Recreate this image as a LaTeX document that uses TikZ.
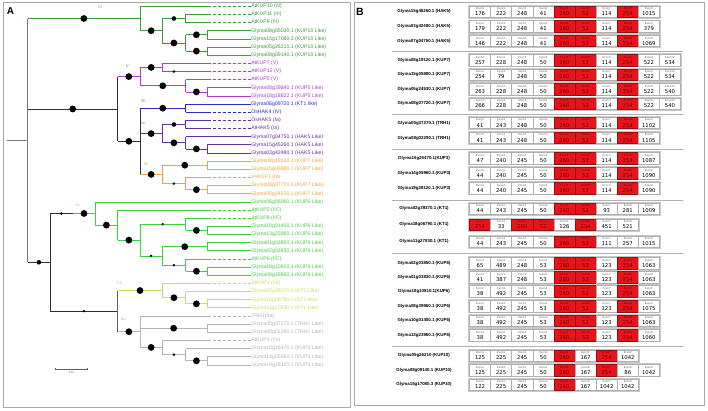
\documentclass[tikz,border=0pt]{standalone}
\usepackage{fontspec}
\setmainfont{Liberation Sans}
\newfontfamily\dvs{DejaVu Sans}
\newfontfamily\lser{Liberation Serif}
\definecolor{cIII}{HTML}{3C9C3C}
\definecolor{cV}{HTML}{B03CD0}
\definecolor{cIV}{HTML}{2A2AC8}
\definecolor{cIa}{HTML}{6B2FA0}
\definecolor{cIb}{HTML}{F2A33A}
\definecolor{cIIc}{HTML}{3CD23C}
\definecolor{cIIb}{HTML}{C4E060}
\definecolor{cIIa}{HTML}{B4B4B4}
\definecolor{cbk}{HTML}{303030}
\definecolor{cdg}{HTML}{606060}
\definecolor{croot}{HTML}{7A7A7A}
\definecolor{frame}{HTML}{A8A8A8}
\definecolor{cellgray}{HTML}{B0B0B0}
\definecolor{cellred}{HTML}{E8141C}
\definecolor{redborder}{HTML}{901010}
\definecolor{redtext}{HTML}{780000}
\definecolor{exgray}{HTML}{606060}
\def\Bd{3.4pt}\def\Md{2.3pt}\def\Sd{1.4pt}
\newcommand\gleaf[4]{%
  \pgfmathsetmacro\yy{6.3+8.15*#2}%
  \node[lab,text=#3] (L#2) at (250.5,\yy) {#4};
  \draw[br,#3] (#1,\yy) -- (L#2.west);}
\newcommand\rleaf[4]{%
  \pgfmathsetmacro\yy{6.3+8.15*#2}%
  \node[lab,text=#3] (L#2) at (250.5,\yy) {#4};
  \coordinate (D#2) at (207.5,\yy);
  \draw[br,#3] (#1,\yy) -- (D#2);
  \draw[br,#3,dash pattern=on 3pt off 2pt] (D#2) -- (L#2.west);}
\newcommand\hbr[5]{%
  \draw[br,#4] (#1,#3) -- (#2,#3);
  \fill ({(#1+#2)/2},#3) circle[radius=#5];}
\newcommand\vbr[4]{\draw[br,#4] (#1,#2) -- (#1,#3);}
\newcommand\erow[4]{%
  \node[gname] (g#1) at (424,#1+5.65) {#2};
  \draw[cellgray!70,line width=0.6pt] (468.7,#1-0.8) rectangle ({469.5+21.1*#3+0.8},#1+12.1);
  \foreach \v/\r [count=\i from 0] in {#4} {
    \ifnum\r=1 \def\fc{cellred}\def\tc{redtext}\def\bc{redborder}\def\lc{redtext}%
    \else \def\fc{white}\def\tc{black}\def\bc{cellgray}\def\lc{exgray}\fi
    \pgfmathsetmacro\cx{469.5+21.1*\i+10.55}
    \node[cellbox,fill=\fc,draw=\bc] at (\cx,#1+5.65) {};
    \node[exl,text=\lc] at (\cx,#1+2.7) {Exon\the\numexpr\i+1\relax};
    \node[exn,text=\tc] at (\cx,#1+7.8) {\v};
  }}
\begin{document}
\begin{tikzpicture}[x=1pt,y=-1pt,
  br/.style={line width=0.75pt},
  lab/.style={anchor=west,inner sep=0.6pt,font=\fontsize{5.2}{6}\selectfont},
  cl/.style={inner sep=0pt,font=\lser\fontsize{4.2}{5}\selectfont},
  gname/.style={inner sep=0pt,font=\bfseries\fontsize{4.4}{5}\selectfont},
  cellbox/.style={minimum width=21.1pt,minimum height=11.3pt,inner sep=0pt,line width=0.5pt},
  exl/.style={inner sep=0pt,font=\dvs\fontsize{2.6}{3}\selectfont},
  exn/.style={inner sep=0pt,font=\dvs\fontsize{5.3}{6}\selectfont},
  sep/.style={draw=cellgray,line width=0.8pt}]
\useasboundingbox (0,0) rectangle (708,410);
\fill[white] (0,0) rectangle (708,410);
% panel frames
\draw[frame,line width=0.8pt] (3.3,2.3) rectangle (350.5,407);
\draw[frame,line width=0.8pt] (354,2.5) rectangle (704.5,405);
\node[inner sep=0pt,font=\bfseries\fontsize{10}{12}\selectfont] (pA) at (10.5,11) {A};
\node[inner sep=0pt,font=\bfseries\fontsize{10.5}{12}\selectfont] (pB) at (360,12.2) {B};
% ---------- tree ----------
\draw[croot,line width=1.2pt] (6.7,140.4) -- (27.7,140.4);
\draw[croot,line width=1.2pt] (27.7,18.5) -- (27.7,262.3);
% III
\hbr{27.7}{140}{18.5}{cIII}{\Bd}
\vbr{140}{6.3}{30.75}{cIII}
\rleaf{140}{0}{cIII}{AtKUP10 (III)}
\hbr{140}{162.3}{30.75}{cIII}{\Bd}
\vbr{162.3}{18.5}{43}{cIII}
\hbr{162.3}{185.5}{18.5}{cIII}{\Md}
\vbr{185.5}{14.45}{22.6}{cIII}
\rleaf{185.5}{1}{cIII}{AtKUP11 (III)}
\rleaf{185.5}{2}{cIII}{AtKUP9 (III)}
\hbr{162.3}{185.5}{43}{cIII}{\Bd}
\vbr{185.5}{34.8}{51.1}{cIII}
\hbr{185.5}{207.3}{34.8}{cIII}{\Bd}
\vbr{207.3}{30.75}{38.9}{cIII}
\gleaf{207.3}{3}{cIII}{Glyma08g05030.1 (KUP10 Like)}
\gleaf{207.3}{4}{cIII}{Glyma15g17080.3 (KUP10 Like)}
\hbr{185.5}{207.3}{51.1}{cIII}{\Bd}
\vbr{207.3}{47.05}{55.2}{cIII}
\gleaf{207.3}{5}{cIII}{Glyma05g26210.1 (KUP10 Like)}
\gleaf{207.3}{6}{cIII}{Glyma08g09140.1 (KUP10 Like)}
% middle
\hbr{27.7}{117.7}{109}{cbk}{\Bd}
\vbr{117.7}{76.6}{141.3}{cbk}
% V
\hbr{117.7}{140}{76.6}{cV}{\Bd}
\vbr{140}{67.4}{85.8}{cV}
\hbr{140}{162.3}{67.4}{cV}{\Bd}
\vbr{162.3}{63.35}{71.5}{cV}
\rleaf{162.3}{7}{cV}{AtKUP7 (V)}
\rleaf{162.3}{8}{cV}{AtKUP12 (V)}
\fill (173.9,71.5) circle[radius=\Sd];
\hbr{140}{185.5}{85.8}{cV}{\Bd}
\vbr{185.5}{79.65}{91.9}{cV}
\rleaf{185.5}{9}{cV}{AtKUP5 (V)}
\hbr{185.5}{207.3}{91.9}{cV}{\Bd}
\vbr{207.3}{87.8}{95.95}{cV}
\gleaf{207.3}{10}{cV}{Glyma08g39840.1 (KUP5 Like)}
\gleaf{207.3}{11}{cV}{Glyma18g18822.1 (KUP5 Like)}
% Q
\hbr{117.7}{140}{141.3}{cbk}{\Bd}
\vbr{140}{108.2}{174.4}{cbk}
% IV
\hbr{140}{185.5}{108.2}{cIV}{\Bd}
\vbr{185.5}{104.1}{112.25}{cIV}
\gleaf{185.5}{12}{cIV}{Glyma06g09720.1 (KT1 like)}
\rleaf{185.5}{13}{cIV}{OsHAK4 (IV)}
% Ia
\hbr{140}{162.3}{133.6}{cIa}{\Bd}
\vbr{162.3}{124.5}{142.8}{cIa}
\hbr{162.3}{185.5}{124.5}{cIa}{\Md}
\vbr{185.5}{120.4}{128.55}{cIa}
\rleaf{185.5}{14}{cIa}{OsHAK5 (Ia)}
\rleaf{185.5}{15}{cIa}{AtHAK5 (Ia)}
\hbr{162.3}{185.5}{142.8}{cIa}{\Bd}
\vbr{185.5}{136.7}{148.9}{cIa}
\gleaf{185.5}{16}{cIa}{Glyma07g04750.1 (HAK5 Like)}
\hbr{185.5}{207.3}{148.9}{cIa}{\Bd}
\vbr{207.3}{144.85}{153}{cIa}
\gleaf{207.3}{17}{cIa}{Glyma15g45260.1 (HAK5 Like)}
\gleaf{207.3}{18}{cIa}{Glyma03g42480.1 (HAK5 Like)}
% Ib
\hbr{140}{162.3}{174.4}{cIb}{\Bd}
\vbr{162.3}{165.2}{183.6}{cIb}
\hbr{162.3}{207.3}{165.2}{cIb}{\Bd}
\vbr{207.3}{161.15}{169.3}{cIb}
\gleaf{207.3}{19}{cIb}{Glyma08g19120.1 (KUP7 Like)}
\gleaf{207.3}{20}{cIb}{Glyma15g05880.1 (KUP7 Like)}
\hbr{162.3}{185.5}{183.6}{cIb}{\Sd}
\vbr{185.5}{177.45}{189.7}{cIb}
\rleaf{185.5}{21}{cIb}{VvKUP1 (Ib)}
\hbr{185.5}{207.3}{189.7}{cIb}{\Bd}
\vbr{207.3}{185.6}{193.75}{cIb}
\gleaf{207.3}{22}{cIb}{Glyma08g07720.1 (KUP7 Like)}
\gleaf{207.3}{23}{cIb}{Glyma05g24530.1 (KUP7 Like)}
% II
\hbr{27.7}{50}{262.3}{cbk}{\Md}
\vbr{50}{213.5}{311.1}{cbk}
% IIc
\draw[br,cbk] (50,213.5) -- (72.7,213.5);
\draw[br,cIIc] (72.7,213.5) -- (95,213.5);
\fill (61.35,213.5) circle[radius=\Sd];
\fill (84,213.5) circle[radius=\Bd];
\vbr{95}{201.9}{225.1}{cIIc}
\gleaf{95}{24}{cIIc}{Glyma06g06060.1 (KUP6 Like)}
\hbr{95}{117.7}{225.1}{cIIc}{\Bd}
\vbr{117.7}{210.05}{240.1}{cIIc}
\rleaf{117.7}{25}{cIIc}{AtKUP2 (IIC)}
\hbr{117.7}{140}{240.1}{cIIc}{\Bd}
\vbr{140}{224.3}{255.9}{cIIc}
\hbr{140}{185.5}{224.3}{cIIc}{\Sd}
\vbr{185.5}{218.2}{230.4}{cIIc}
\rleaf{185.5}{26}{cIIc}{AtKUP8 (IIC)}
\hbr{185.5}{207.3}{230.4}{cIIc}{\Bd}
\vbr{207.3}{226.35}{234.5}{cIIc}
\gleaf{207.3}{27}{cIIc}{Glyma10g01400.1 (KUP6 Like)}
\gleaf{207.3}{28}{cIIc}{Glyma13g23960.1 (KUP6 Like)}
\hbr{140}{162.3}{255.9}{cIIc}{\Sd}
\vbr{162.3}{246.7}{265.1}{cIIc}
\hbr{162.3}{207.3}{246.7}{cIIc}{\Bd}
\vbr{207.3}{242.65}{250.8}{cIIc}
\gleaf{207.3}{29}{cIIc}{Glyma01g03850.1 (KUP6 Like)}
\gleaf{207.3}{30}{cIIc}{Glyma02g03830.1 (KUP6 Like)}
\hbr{162.3}{185.5}{265.1}{cIIc}{\Sd}
\vbr{185.5}{258.95}{271.2}{cIIc}
\rleaf{185.5}{31}{cIIc}{AtKUP6 (IIC)}
\hbr{185.5}{207.3}{271.2}{cIIc}{\Bd}
\vbr{207.3}{267.1}{275.25}{cIIc}
\gleaf{207.3}{32}{cIIc}{Glyma18g10810.1 (KUP6 Like)}
\gleaf{207.3}{33}{cIIc}{Glyma08g39860.1 (KUP6 Like)}
% IIab
\hbr{50}{117.7}{311.1}{cbk}{\Sd}
\draw[cdg,line width=1pt] (117.7,290.5) -- (117.7,331.7);
% IIb
\hbr{117.7}{162.3}{290.5}{cIIb}{\Bd}
\vbr{162.3}{283.4}{297.7}{cIIb}
\rleaf{162.3}{34}{cIIb}{AtKUP1 (IIb)}
\hbr{162.3}{185.5}{297.7}{cIIb}{\Bd}
\vbr{185.5}{291.55}{303.8}{cIIb}
\gleaf{185.5}{35}{cIIb}{Glyma02g39370.1 (KT1 Like)}
\hbr{185.5}{207.3}{303.8}{cIIb}{\Bd}
\vbr{207.3}{299.7}{307.85}{cIIb}
\gleaf{207.3}{36}{cIIb}{Glyma18g06790.1 (KT1 like)}
\gleaf{207.3}{37}{cIIb}{Glyma11g27830.1 (KT1 Like)}
% IIa
\hbr{117.7}{140}{331.7}{cIIa}{\Bd}
\vbr{140}{316}{347.4}{cIIa}
\rleaf{140}{38}{cIIa}{TRH1(IIa)}
\hbr{140}{207.3}{328.2}{cIIa}{\Bd}
\vbr{207.3}{324.15}{332.3}{cIIa}
\gleaf{207.3}{39}{cIIa}{Glyma05g37270.1 (TRH1 Like)}
\gleaf{207.3}{40}{cIIa}{Glyma08g02290.1 (TRH1 Like)}
\hbr{140}{162.3}{347.4}{cIIa}{\Bd}
\vbr{162.3}{340.45}{354.7}{cIIa}
\rleaf{162.3}{41}{cIIa}{AtKUP3 (IIa)}
\hbr{162.3}{185.5}{354.7}{cIIa}{\Sd}
\vbr{185.5}{348.6}{360.8}{cIIa}
\gleaf{185.5}{42}{cIIa}{Glyma16g26470.1 (KUP3 Like)}
\hbr{185.5}{207.3}{360.8}{cIIa}{\Bd}
\vbr{207.3}{356.75}{364.9}{cIIa}
\gleaf{207.3}{43}{cIIa}{Glyma14g05960.1 (KUP3 Like)}
\gleaf{207.3}{44}{cIIa}{Glyma19g28120.1 (KUP3 Like)}
% clade labels
\node[cl,text=olive!70!white] (tIII) at (100,6.7) {III};
\node[cl,text=cdg] (tV) at (127.5,66) {V};
\node[cl,text=cdg] (tIV) at (143.5,100.8) {IV};
\node[cl,text=cdg] (tIa) at (143,123.5) {Ia};
\node[cl,text=cIb!80!olive] (tIb) at (146,164) {Ib};
\node[cl,text=cIIc!60!white] (tIIc) at (78,205) {IIc};
\node[cl,text=olive!40!white] (tIIb) at (119.5,283.5) {IIb};
\node[cl,text=cIIa] (tIIa) at (123,319) {IIa};
% scale bar
\coordinate (s1) at (55,369); \coordinate (s2) at (87.7,369);
\draw[cdg,line width=0.6pt] (s1) -- (s2);
\draw[cdg,line width=0.6pt] (55,367.8) -- (55,370.2) (87.7,367.8) -- (87.7,370.2);
\node[inner sep=0pt,font=\fontsize{2.6}{3}\selectfont,text=cdg] (sl) at (71.3,373) {0.05};
% ---------- panel B ----------
\erow{6}{Glyma15g45260.1 (HAK5)}{9}{176/0,222/0,248/0,41/0,260/1,52/1,114/0,254/1,1015/0}
\erow{20.7}{Glyma03g42480.1 (HAK5)}{9}{179/0,222/0,248/0,41/0,260/1,52/1,114/0,254/1,379/0}
\erow{35.4}{Glyma07g04750.1 (HAK5)}{9}{146/0,222/0,248/0,41/0,260/1,52/1,114/0,254/1,1069/0}
\draw[sep] (391.7,51.2) -- (683.3,51.2);
\erow{54.5}{Glyma08g19120.1 (KUP7)}{10}{257/0,228/0,248/0,50/0,260/1,52/1,114/0,254/1,522/0,534/0}
\erow{69}{Glyma15g05880.1 (KUP7)}{10}{254/0,79/0,248/0,50/0,260/1,52/1,114/0,254/1,522/0,534/0}
\erow{83.5}{Glyma05g24530.1 (KUP7)}{10}{263/0,228/0,248/0,50/0,260/1,52/1,114/0,254/1,522/0,540/0}
\erow{98}{Glyma08g07720.1 (KUP7)}{10}{266/0,228/0,248/0,50/0,260/1,52/1,114/0,254/1,522/0,540/0}
\draw[sep] (391.7,114) -- (683.3,114);
\erow{117.3}{Glyma05g37270.1 (TRH1)}{9}{41/0,243/0,248/0,50/0,260/1,52/1,114/0,254/1,1102/0}
\erow{132.3}{Glyma08g02290.1 (TRH1)}{9}{41/0,243/0,248/0,50/0,260/1,52/1,114/0,254/1,1105/0}
\draw[sep] (391.7,149) -- (683.3,149);
\erow{152.5}{Glyma16g26470.1(KUP3)}{9}{47/0,240/0,245/0,50/0,260/1,52/1,114/0,254/1,1087/0}
\erow{167.5}{Glyma14g05960.1 (KUP3)}{9}{44/0,240/0,245/0,50/0,260/1,52/1,114/0,254/1,1090/0}
\erow{182.5}{Glyma19g28120.1 (KUP3)}{9}{44/0,240/0,245/0,50/0,260/1,52/1,114/0,254/1,1090/0}
\draw[sep] (391.7,200) -- (683.3,200);
\erow{203}{Glyma02g39370.1 (KT1)}{9}{44/0,243/0,245/0,50/0,260/1,52/1,93/0,281/0,1009/0}
\erow{219}{Glyma18g06790.1 (KT1)}{8}{254/1,33/0,260/1,52/1,126/0,254/1,451/0,521/0}
\erow{236}{Glyma11g27830.1 (KT1)}{9}{44/0,243/0,245/0,50/0,260/1,52/1,111/0,257/0,1015/0}
\draw[sep] (391.7,253) -- (683.3,253);
\erow{257.5}{Glyma02g03850.1 (KUP6)}{9}{65/0,489/0,248/0,53/0,260/1,52/1,123/0,254/1,1063/0}
\erow{271.5}{Glyma01g03830.1 (KUP6)}{9}{41/0,387/0,248/0,53/0,260/1,52/1,123/0,254/1,1063/0}
\erow{285.5}{Glyma18g10810.1(KUP6)}{9}{38/0,492/0,245/0,53/0,260/1,52/1,123/0,254/1,1063/0}
\erow{300.5}{Glyma08g39860.1 (KUP6)}{9}{38/0,492/0,245/0,53/0,260/1,52/1,123/0,254/1,1075/0}
\erow{315}{Glyma10g01400.1 (KUP6)}{9}{38/0,492/0,245/0,53/0,260/1,52/1,123/0,254/1,1063/0}
\erow{329.5}{Glyma13g23960.1 (KUP6)}{9}{38/0,492/0,245/0,53/0,260/1,52/1,123/0,254/1,1060/0}
\draw[sep] (391.7,346.7) -- (683.3,346.7);
\erow{350}{Glyma05g26210 (KUP10)}{8}{125/0,225/0,245/0,50/0,260/1,167/0,254/1,1042/0}
\erow{364.5}{Glyma08g09140.1 (KUP10)}{9}{125/0,225/0,245/0,50/0,260/1,167/0,254/1,86/0,1042/0}
\erow{379}{Glyma15g17080.3 (KUP10)}{8}{122/0,225/0,245/0,50/0,260/1,167/0,1042/0,1042/0}
\end{tikzpicture}
\end{document}
